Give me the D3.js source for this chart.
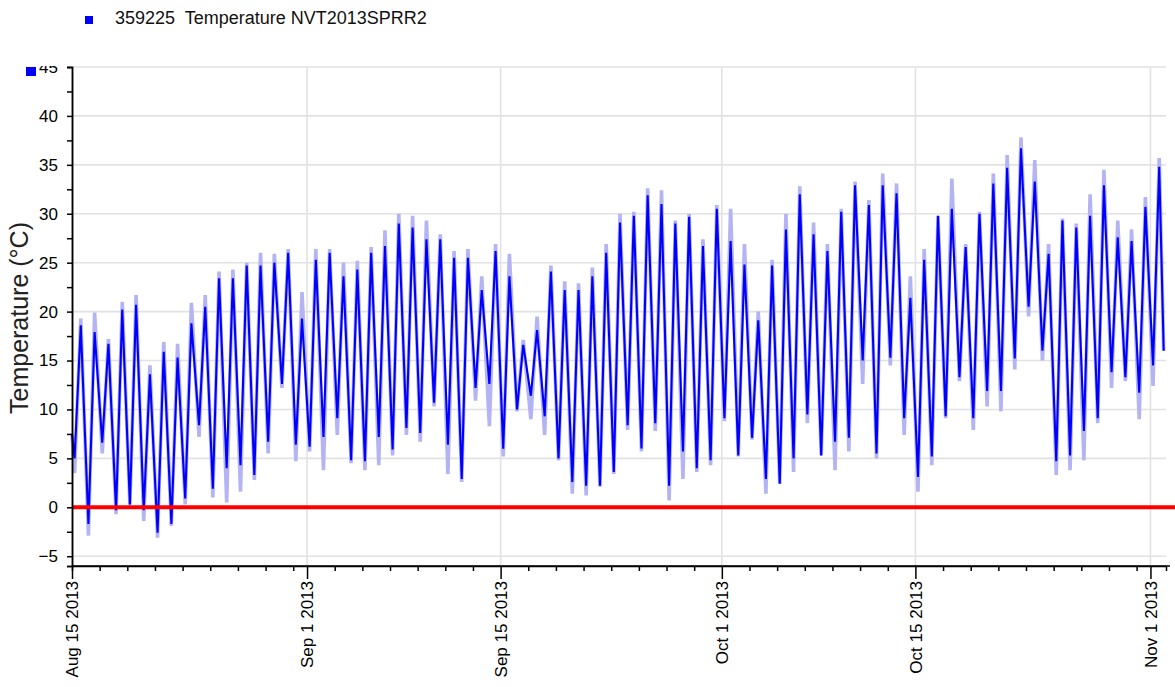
<!DOCTYPE html>
<html>
<head>
<meta charset="utf-8">
<script src="https://cdn.jsdelivr.net/npm/d3@7"></script>
<style>
  body { margin: 0; background: #fff; }
  svg { display: block; font-family: "Liberation Sans", Arial, sans-serif; }
</style>
</head>
<body>
<script>
const WIDTH = 1175;
const HEIGHT = 687;
const LEFT = 72;
const RIGHT = 1166;
const TOP = 67;
const BOTTOM = 566;

// series info
var seriesLabel = '359225  Temperature NVT2013SPRR2';
var yTitle = 'Temperature (\u00B0C)';
var startDay = '2013-08-15';
var endTime = '2013-11-02 03:00';

// one reading per day (Aug 15 .. Nov 1): morning low and afternoon high
var dailyMin = [5.0,-1.7,6.6,-0.3,0.3,-0.3,-2.6,-1.7,0.9,8.4,
	1.9,4.0,4.3,3.3,6.7,12.6,6.4,6.2,7.2,9.1,
	4.8,4.7,7.2,5.9,8.1,7.6,10.7,6.4,2.9,12.2,
	12.6,6.0,10.0,11.4,9.3,5.0,2.6,2.2,2.2,3.6,
	8.4,6.0,8.6,2.2,5.7,4.0,4.8,9.1,5.3,7.1,
	2.9,2.4,5.0,9.5,5.3,6.7,7.1,15.0,5.5,15.3,
	9.1,3.1,5.2,9.3,13.3,9.1,11.9,11.9,15.2,20.5,
	16.0,4.7,5.3,7.8,9.1,13.8,13.3,11.7,14.5];
var dailyMax = [18.6,17.9,16.7,20.2,20.7,13.6,15.9,15.3,18.8,20.5,
	23.4,23.4,24.7,24.7,25.0,26.0,19.3,25.3,26.0,23.6,
	24.3,26.0,26.7,29.0,28.6,27.4,27.4,25.5,25.5,22.2,
	26.2,23.6,16.6,18.1,24.1,22.2,22.2,23.6,26.0,29.1,
	29.8,31.9,31.0,29.0,29.7,26.7,30.5,27.2,24.8,19.1,
	24.7,28.4,32.0,27.9,26.2,30.2,32.9,30.9,32.9,32.1,
	21.4,25.3,29.8,30.5,26.6,30.0,33.1,34.7,36.7,33.3,
	25.9,29.3,28.6,29.8,32.9,27.6,27.2,30.7,34.8];
// faint extreme readings around the same lows and highs
var lowMin = [3.5,-2.9,5.5,-0.7,0.2,-1.4,-3.1,-1.9,0.3,7.2,
	1.0,0.5,1.6,2.8,5.5,12.2,4.7,5.7,3.8,7.4,
	4.5,3.8,4.3,5.3,7.4,6.7,10.3,3.4,2.6,10.9,
	8.3,5.2,9.8,9.0,7.4,4.8,1.4,1.2,2.1,3.4,
	7.9,5.7,7.8,0.7,2.9,3.6,4.3,8.8,5.2,6.9,
	1.4,2.4,3.6,8.6,5.3,3.8,5.7,12.6,5.0,14.5,
	7.4,1.6,4.3,9.1,12.9,7.9,10.3,9.8,14.1,19.5,
	15.0,3.3,3.8,4.8,8.6,12.2,12.9,9.0,12.4];
var highMax = [19.3,19.9,17.2,21.0,21.7,14.5,16.9,16.7,20.9,21.7,
	24.1,24.3,25.0,26.0,25.9,26.4,22.0,26.4,26.4,25.0,
	25.2,26.6,28.3,30.0,29.8,29.3,27.9,26.2,26.4,23.6,
	26.9,25.9,17.1,19.5,24.7,23.1,22.9,24.5,26.9,30.0,
	30.2,32.6,32.4,29.3,30.0,27.4,30.9,30.5,26.9,20.0,
	25.3,30.0,32.8,29.1,26.9,30.5,33.3,31.4,34.1,33.1,
	23.6,26.4,29.8,33.6,26.9,30.2,34.1,36.0,37.8,35.5,
	26.9,29.5,29.0,32.0,34.5,29.3,28.4,31.7,35.7];
var firstValue = 7.5;
var lastValue = 16.0;
var minHour = 4.5;
var maxHour = 15.25;
var lastHour = 23;

var threshold = 0;
var yTicks = [-5,0,5,10,15,20,25,30,35,40,45];
var yMinorTicks = [-2.5,2.5,7.5,12.5,17.5,22.5,27.5,32.5,37.5,42.5];
var xTicks = ['2013-08-15','2013-09-01','2013-09-15','2013-10-01','2013-10-15','2013-11-01'];

var parseDay = d3.timeParse('%Y-%m-%d');
var parseTime = d3.timeParse('%Y-%m-%d %H:%M');
var fmt = d3.timeFormat('%b %-d %Y');

var buildPoints = function(lows, highs){
	var t0 = parseDay(startDay);
	var pts = [{t: t0, v: firstValue}];
	for (var k = 0; k < lows.length; k++){
		pts.push({t: d3.timeMinute.offset(t0, (k*24 + minHour)*60), v: lows[k]});
		pts.push({t: d3.timeMinute.offset(t0, (k*24 + maxHour)*60), v: highs[k]});
	}
	pts.push({t: d3.timeMinute.offset(t0, ((lows.length-1)*24 + lastHour)*60), v: lastValue});
	return pts;
}

var _svg = d3.select('body').append('svg')
	.attr('width', WIDTH)
	.attr('height', HEIGHT);

var _xScale = d3.scaleTime()
	.domain([parseDay(startDay), parseTime(endTime)])
	.range([LEFT, RIGHT]);

var _yScale = d3.scaleLinear()
	.domain([-6, 45])
	.range([BOTTOM, TOP]);

var majorDates = xTicks.map(parseDay);
var minorDates = [];
majorDates.forEach(function(d, i){
	var next = i < majorDates.length-1 ? majorDates[i+1] : _xScale.domain()[1];
	var m = d3.timeDay.offset(d, 2);
	while (m < next){
		minorDates.push(m);
		m = d3.timeDay.offset(m, 2);
	}
});

// grid
var grid = _svg.append('g').attr('class', 'grid');
grid.selectAll('line.h')
	.data(yTicks)
	.enter().append('line')
	.attr('x1', LEFT).attr('x2', RIGHT)
	.attr('y1', function(d){return _yScale(d)})
	.attr('y2', function(d){return _yScale(d)})
	.style('stroke', '#e2e2e2')
	.style('stroke-width', 1.6);
grid.selectAll('line.v')
	.data(majorDates.slice(1))
	.enter().append('line')
	.attr('x1', function(d){return _xScale(d)})
	.attr('x2', function(d){return _xScale(d)})
	.attr('y1', TOP).attr('y2', BOTTOM)
	.style('stroke', '#e2e2e2')
	.style('stroke-width', 1.6);

// series
var line = d3.line()
	.x(function(d){return _xScale(d.t)})
	.y(function(d){return _yScale(d.v)});

_svg.append('path')
	.datum(buildPoints(lowMin, highMax))
	.attr('d', line)
	.style('fill', 'none')
	.style('stroke', '#b4b4f5')
	.style('stroke-width', 3.6);

_svg.append('path')
	.datum(buildPoints(dailyMin, dailyMax))
	.attr('d', line)
	.style('fill', 'none')
	.style('stroke', '#0000ff')
	.style('stroke-width', 2.1);

// zero line
_svg.append('line')
	.attr('x1', LEFT).attr('x2', WIDTH)
	.attr('y1', _yScale(threshold)).attr('y2', _yScale(threshold))
	.style('stroke', '#ff0000')
	.style('stroke-width', 4);

// axes; labels are cut at the top edge of the plot
_svg.append('clipPath').attr('id', 'yclip')
	.append('rect').attr('x', -LEFT).attr('y', TOP - 1).attr('width', LEFT + 10).attr('height', HEIGHT);

var yAxis = d3.axisLeft(_yScale).tickValues(yTicks).tickSize(5).tickPadding(9);
var yMinor = d3.axisLeft(_yScale).tickValues(yMinorTicks).tickSize(5).tickFormat('');
var xAxis = d3.axisBottom(_xScale).tickValues(majorDates).tickSize(13).tickFormat(fmt);
var xMinor = d3.axisBottom(_xScale).tickValues(minorDates).tickSize(5).tickFormat('');

var gy = _svg.append('g')
	.attr('transform', 'translate(' + LEFT + ',0)')
	.attr('clip-path', 'url(#yclip)')
	.call(yAxis);
_svg.append('g')
	.attr('transform', 'translate(' + LEFT + ',0)')
	.call(yMinor);

var gx = _svg.append('g')
	.attr('transform', 'translate(0,' + BOTTOM + ')')
	.call(xAxis);
_svg.append('g')
	.attr('transform', 'translate(0,' + BOTTOM + ')')
	.call(xMinor);

gx.select('.domain').attr('d', 'M' + LEFT + ',0H1170');
gx.selectAll('.tick text')
	.attr('transform', 'rotate(-90)')
	.attr('text-anchor', 'end')
	.attr('x', -15)
	.attr('y', 0)
	.attr('dy', '0.35em');

_svg.selectAll('.domain, .tick line')
	.style('stroke', '#000')
	.style('stroke-width', 1.5);
_svg.selectAll('.tick text')
	.style('font-size', '17px')
	.style('fill', '#000');
_svg.selectAll('g').attr('font-family', null);

// y title
_svg.append('text')
	.attr('transform', 'translate(28,318) rotate(-90)')
	.attr('text-anchor', 'middle')
	.style('font-size', '25px')
	.style('fill', '#222')
	.text(yTitle);

// legend
_svg.append('rect')
	.attr('x', 85).attr('y', 16).attr('width', 8).attr('height', 8)
	.style('fill', '#0000ff');
_svg.append('text')
	.attr('x', 115).attr('y', 23.5)
	.style('font-size', '18px')
	.style('white-space', 'pre')
	.style('fill', '#111')
	.text(seriesLabel);

// marker next to the top of the axis
_svg.append('rect')
	.attr('x', 26).attr('y', 67).attr('width', 10).attr('height', 9)
	.style('fill', '#0000ff');
</script>
</body>
</html>
